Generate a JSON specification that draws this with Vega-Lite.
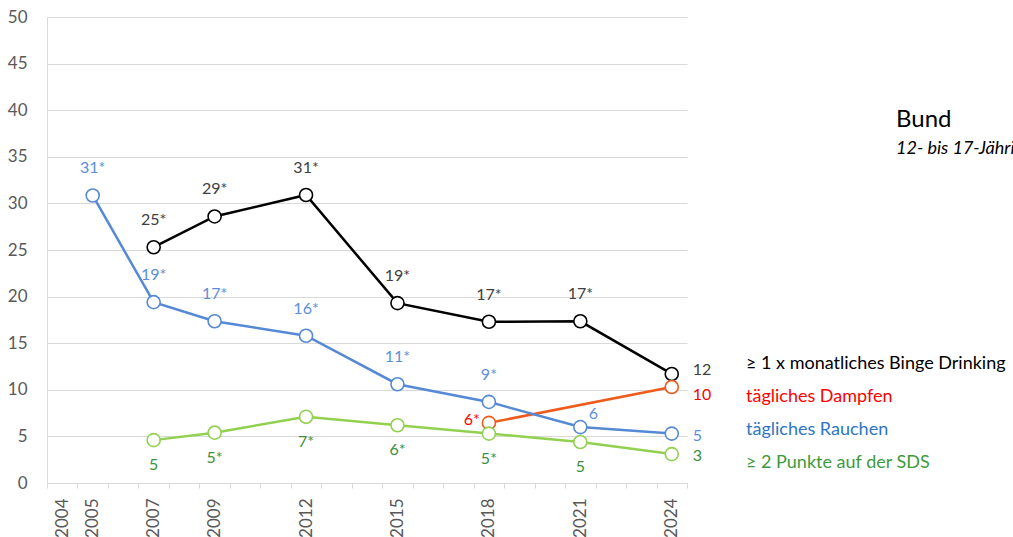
{
  "$schema": "https://vega.github.io/schema/vega-lite/v6.json",
  "width": 640,
  "height": 466,
  "autosize": {"type": "none"},
  "padding": {"left": 47, "top": 17, "right": 326, "bottom": 54},
  "background": "white",
  "config": {"font": "Lato", "view": {"stroke": null}},
  "title": {
    "text": "Bund",
    "subtitle": "12- bis 17-Jährige",
    "anchor": "start",
    "frame": "group",
    "orient": "top",
    "dx": 849,
    "dy": 154,
    "fontSize": 24,
    "fontWeight": "normal",
    "color": "#000000",
    "subtitleFontSize": 18,
    "subtitleFontStyle": "italic",
    "subtitleColor": "#000000",
    "subtitlePadding": 8
  },
  "data": {
    "values": [
      {"series": "≥ 1 x monatliches Binge Drinking", "year": 2007, "value": 25.3, "label": "25*"},
      {"series": "≥ 1 x monatliches Binge Drinking", "year": 2009, "value": 28.6, "label": "29*"},
      {"series": "≥ 1 x monatliches Binge Drinking", "year": 2012, "value": 30.9, "label": "31*"},
      {"series": "≥ 1 x monatliches Binge Drinking", "year": 2015, "value": 19.3, "label": "19*"},
      {"series": "≥ 1 x monatliches Binge Drinking", "year": 2018, "value": 17.3, "label": "17*"},
      {"series": "≥ 1 x monatliches Binge Drinking", "year": 2021, "value": 17.35, "label": "17*"},
      {"series": "≥ 1 x monatliches Binge Drinking", "year": 2024, "value": 11.7, "label": "12"},
      {"series": "tägliches Dampfen", "year": 2018, "value": 6.45, "label": "6*"},
      {"series": "tägliches Dampfen", "year": 2024, "value": 10.3, "label": "10"},
      {"series": "tägliches Rauchen", "year": 2005, "value": 30.85, "label": "31*"},
      {"series": "tägliches Rauchen", "year": 2007, "value": 19.4, "label": "19*"},
      {"series": "tägliches Rauchen", "year": 2009, "value": 17.35, "label": "17*"},
      {"series": "tägliches Rauchen", "year": 2012, "value": 15.8, "label": "16*"},
      {"series": "tägliches Rauchen", "year": 2015, "value": 10.6, "label": "11*"},
      {"series": "tägliches Rauchen", "year": 2018, "value": 8.7, "label": "9*"},
      {"series": "tägliches Rauchen", "year": 2021, "value": 6.0, "label": "6"},
      {"series": "tägliches Rauchen", "year": 2024, "value": 5.3, "label": "5"},
      {"series": "≥ 2 Punkte auf der SDS", "year": 2007, "value": 4.6, "label": "5"},
      {"series": "≥ 2 Punkte auf der SDS", "year": 2009, "value": 5.4, "label": "5*"},
      {"series": "≥ 2 Punkte auf der SDS", "year": 2012, "value": 7.1, "label": "7*"},
      {"series": "≥ 2 Punkte auf der SDS", "year": 2015, "value": 6.2, "label": "6*"},
      {"series": "≥ 2 Punkte auf der SDS", "year": 2018, "value": 5.3, "label": "5*"},
      {"series": "≥ 2 Punkte auf der SDS", "year": 2021, "value": 4.4, "label": "5"},
      {"series": "≥ 2 Punkte auf der SDS", "year": 2024, "value": 3.1, "label": "3"}
    ]
  },
  "encoding": {
    "x": {
      "field": "year",
      "type": "ordinal",
      "bandPosition": 0.5,
      "scale": {
        "type": "band",
        "domain": [2004,2005,2006,2007,2008,2009,2010,2011,2012,2013,2014,2015,2016,2017,2018,2019,2020,2021,2022,2023,2024],
        "paddingInner": 0,
        "paddingOuter": 0
      },
      "axis": {
        "title": null,
        "labelAngle": -90,
        "labelExpr": "indexof([2004,2005,2007,2009,2012,2015,2018,2021,2024], datum.value) >= 0 ? datum.label : ''",
        "labelFontSize": 17,
        "labelColor": "#595959",
        "labelPadding": 10,
        "tickBand": "extent",
        "tickSize": 5,
        "tickColor": "#d9d9d9",
        "domainColor": "#d9d9d9",
        "grid": false
      }
    },
    "y": {
      "field": "value",
      "type": "quantitative",
      "scale": {"domain": [0, 50], "nice": false},
      "axis": {
        "title": null,
        "values": [0,5,10,15,20,25,30,35,40,45,50],
        "labelFontSize": 17,
        "labelColor": "#595959",
        "labelPadding": 20,
        "ticks": false,
        "domainColor": "#d9d9d9",
        "gridColor": "#d9d9d9"
      }
    }
  },
  "layer": [
    {
      "mark": {"type": "line", "strokeWidth": 2.5},
      "encoding": {
        "stroke": {
          "field": "series",
          "type": "nominal",
          "scale": {
            "domain": ["≥ 1 x monatliches Binge Drinking", "tägliches Dampfen", "tägliches Rauchen", "≥ 2 Punkte auf der SDS"],
            "range": ["#000000", "#ee5a1a", "#5589d6", "#92d050"]
          },
          "legend": {
            "title": null,
            "orient": "none",
            "legendX": 681,
            "legendY": 338,
            "symbolSize": 0,
            "symbolOpacity": 0,
            "symbolStrokeWidth": 0,
            "labelOffset": 0,
            "labelFontSize": 18,
            "labelLimit": 400,
            "rowPadding": 15,
            "labelColor": {"expr": "datum.label == 'tägliches Dampfen' ? '#ff0000' : datum.label == 'tägliches Rauchen' ? '#2e75c6' : datum.label == '≥ 2 Punkte auf der SDS' ? '#3d9a3d' : '#000000'"}
          }
        }
      }
    },
    {
      "mark": {"type": "point", "shape": "circle", "size": 170, "filled": true, "fill": "white", "strokeWidth": 1.6, "opacity": 1},
      "encoding": {
        "stroke": {"field": "series", "type": "nominal"}
      }
    },
    {
      "transform": [{"filter": "datum.year < 2024 && (datum.series == '≥ 1 x monatliches Binge Drinking' || (datum.series == 'tägliches Rauchen' && datum.year != 2021))"}],
      "mark": {"type": "text", "fontSize": 16, "baseline": "middle", "dy": -27},
      "encoding": {
        "text": {"field": "label"},
        "color": {
          "field": "series", "type": "nominal", "legend": null,
          "scale": {
            "domain": ["≥ 1 x monatliches Binge Drinking", "tägliches Dampfen", "tägliches Rauchen", "≥ 2 Punkte auf der SDS"],
            "range": ["#404040", "#ff0000", "#5b8fd9", "#3d8f3d"]
          }
        }
      }
    },
    {
      "transform": [{"filter": "datum.series == 'tägliches Rauchen' && datum.year == 2021"}],
      "mark": {"type": "text", "fontSize": 16, "baseline": "middle", "dx": 13, "dy": -13},
      "encoding": {"text": {"field": "label"}, "color": {"field": "series", "type": "nominal", "legend": null}}
    },
    {
      "transform": [{"filter": "datum.series == '≥ 2 Punkte auf der SDS' && datum.year < 2024"}],
      "mark": {"type": "text", "fontSize": 16, "baseline": "middle", "dy": 25},
      "encoding": {"text": {"field": "label"}, "color": {"field": "series", "type": "nominal", "legend": null}}
    },
    {
      "transform": [{"filter": "datum.series == 'tägliches Dampfen' && datum.year == 2018"}],
      "mark": {"type": "text", "fontSize": 16, "baseline": "middle", "align": "right", "dx": -9, "dy": -3},
      "encoding": {"text": {"field": "label"}, "color": {"field": "series", "type": "nominal", "legend": null}}
    },
    {
      "transform": [{"filter": "datum.year == 2024 && datum.series == '≥ 1 x monatliches Binge Drinking'"}],
      "mark": {"type": "text", "fontSize": 16, "baseline": "middle", "align": "left", "dx": 21, "dy": -4},
      "encoding": {"text": {"field": "label"}, "color": {"field": "series", "type": "nominal", "legend": null}}
    },
    {
      "transform": [{"filter": "datum.year == 2024 && datum.series == 'tägliches Dampfen'"}],
      "mark": {"type": "text", "fontSize": 16, "baseline": "middle", "align": "left", "dx": 21, "dy": 8},
      "encoding": {"text": {"field": "label"}, "color": {"field": "series", "type": "nominal", "legend": null}}
    },
    {
      "transform": [{"filter": "datum.year == 2024 && (datum.series == 'tägliches Rauchen' || datum.series == '≥ 2 Punkte auf der SDS')"}],
      "mark": {"type": "text", "fontSize": 16, "baseline": "middle", "align": "left", "dx": 21, "dy": 2},
      "encoding": {"text": {"field": "label"}, "color": {"field": "series", "type": "nominal", "legend": null}}
    }
  ]
}
